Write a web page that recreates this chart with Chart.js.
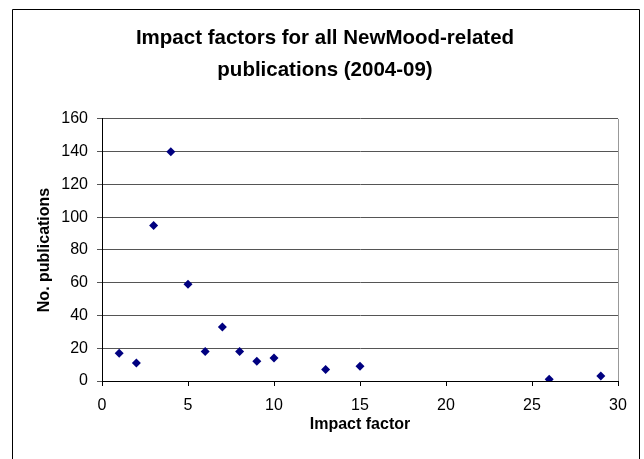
<!DOCTYPE html>
<html>
<head>
<meta charset="utf-8">
<script src="https://cdn.jsdelivr.net/npm/chart.js@4"></script>
<style>
    html, body { margin: 0; padding: 0; background: #fff; }
    #wrap { width: 644px; height: 459px; }
</style>
</head>
<body>
<div id="wrap"><canvas id="chart" width="644" height="459"></canvas></div>
<script>
const impactFactors = [1, 2, 3, 4, 5, 6, 7, 8, 9, 10, 13, 15, 26, 29];
const publications = [17, 11, 95, 140, 59, 18, 33, 18, 12, 14, 7, 9, 1, 3];
const xTicks = [0, 5, 10, 15, 20, 25, 30];
const yTicks = [0, 20, 40, 60, 80, 100, 120, 140, 160];

const FONT = "'Liberation Sans', Arial, sans-serif";

// outer frame + right edge of the plot area, like the Excel chart
const framePlugin = {
    id: 'frame',
    afterDraw(chart) {
        const { ctx, chartArea } = chart;
        ctx.save();
        ctx.strokeStyle = '#000';
        ctx.lineWidth = 1;
        ctx.beginPath();
        ctx.moveTo(12.5, 470);
        ctx.lineTo(12.5, 9.5);
        ctx.lineTo(639.5, 9.5);
        ctx.lineTo(639.5, 470);
        ctx.stroke();
        ctx.strokeStyle = '#999';
        ctx.beginPath();
        ctx.moveTo(Math.round(chartArea.right) + 0.5, chartArea.top);
        ctx.lineTo(Math.round(chartArea.right) + 0.5, chartArea.bottom);
        ctx.stroke();
        ctx.restore();
    }
};

const ctx = document.getElementById('chart').getContext('2d');
new Chart(ctx, {
    type: 'scatter',
    data: {
        datasets: [{
            label: 'Publications',
            data: impactFactors.map((x, i) => ({ x: x, y: publications[i] })),
            pointStyle: 'rectRot',
            pointRadius: 4.5,
            pointHoverRadius: 4.5,
            backgroundColor: '#000080',
            borderColor: '#000080',
            borderWidth: 0
        }]
    },
    options: {
        responsive: false,
        animation: false,
        // left/right padding keep the title centred on the frame
        layout: { padding: { top: 0, right: 26, bottom: 0, left: 32 } },
        plugins: {
            legend: { display: false },
            tooltip: { enabled: false },
            title: {
                display: true,
                text: ['Impact factors for all NewMood-related', 'publications (2004-09)'],
                color: '#000',
                font: { family: FONT, size: 20.5, weight: 'bold', lineHeight: 1.56 },
                padding: { top: 22, bottom: 33 }
            }
        },
        scales: {
            x: {
                type: 'linear',
                min: 0,
                max: 30,
                afterBuildTicks: (scale) => { scale.ticks = xTicks.map(v => ({ value: v })); },
                afterFit: (scale) => { scale.height = 78; },
                ticks: {
                    color: '#000',
                    font: { family: FONT, size: 16 },
                    padding: 10,
                    maxRotation: 0
                },
                grid: { drawOnChartArea: false, drawTicks: true, tickLength: 5, color: '#000' },
                border: { color: '#000' },
                title: {
                    display: true,
                    text: 'Impact factor',
                    color: '#000',
                    font: { family: FONT, size: 16, weight: 'bold' },
                    padding: { top: 0, bottom: 25 }
                }
            },
            y: {
                min: 0,
                max: 160,
                afterBuildTicks: (scale) => { scale.ticks = yTicks.map(v => ({ value: v })); },
                afterFit: (scale) => { scale.width = 70; },
                ticks: {
                    color: '#000',
                    font: { family: FONT, size: 16 },
                    padding: 9
                },
                grid: { color: '#555', tickLength: 5 },
                border: { color: '#000' },
                title: {
                    display: true,
                    text: 'No. publications',
                    color: '#000',
                    font: { family: FONT, size: 16, weight: 'bold' },
                    padding: { top: 2.5, bottom: 0 }
                }
            }
        }
    },
    plugins: [framePlugin]
});
</script>
</body>
</html>
